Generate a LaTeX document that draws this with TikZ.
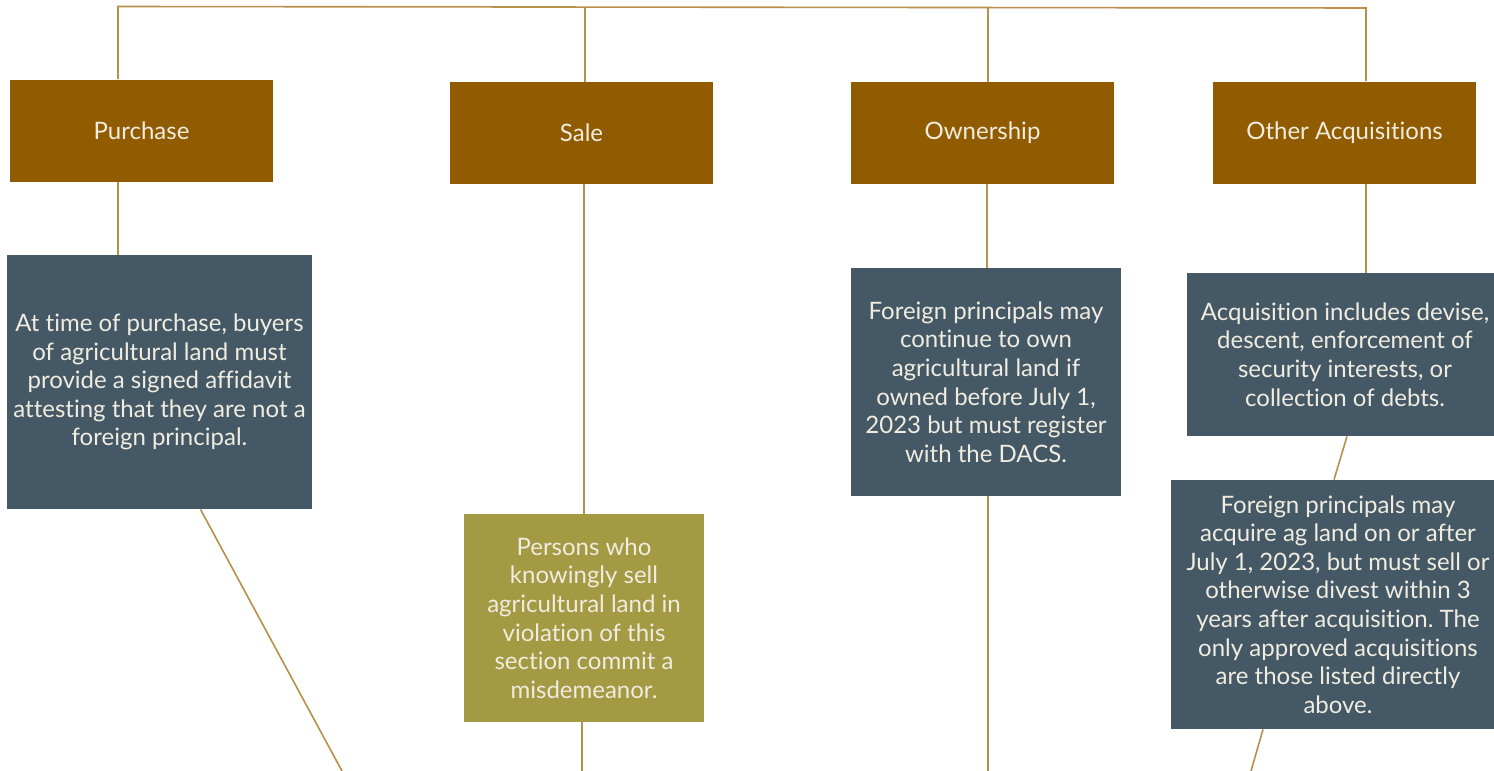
\documentclass[tikz,border=0pt]{standalone}
\usepackage{fontspec}
\setmainfont[Ligatures={NoCommon}]{Lato}
\usetikzlibrary{backgrounds,calc}
\definecolor{hdr}{RGB}{145,91,0}
\definecolor{slate}{RGB}{69,88,102}
\definecolor{olive}{RGB}{163,154,67}
\definecolor{wire}{RGB}{184,144,74}
\definecolor{cream}{RGB}{240,236,224}
\tikzset{
  box/.style={rectangle, inner sep=0pt, text=cream, align=center,
    font=\fontsize{12}{14.3}\selectfont\frenchspacing},
  head/.style={box, fill=hdr, minimum width=131.5pt, minimum height=51pt},
  slatebox/.style={box, fill=slate},
  olivebox/.style={box, fill=olive},
  wireline/.style={draw=wire, line width=0.8pt}
}
\begin{document}
\begin{tikzpicture}[x=0.5pt,y=-0.5pt]
\useasboundingbox (0,0) rectangle (1494,771);
\clip (0,0) rectangle (1494,771);
% headers
\node[head] (ph) at (141.5,130.5) {Purchase};
\node[head] (sh) at (581.5,133) {Sale};
\node[head] (oh) at (982.5,133) {Ownership};
\node[head] (ah) at (1344.5,132.5) {Other Acquisitions};
% bodies
\node[slatebox, minimum width=152.5pt, minimum height=127pt] (pb) at (159.5,382)
  {At time of purchase, buyers\\of agricultural land must\\provide a signed affidavit\\attesting that they are not a\\foreign principal.};
\node[olivebox, minimum width=120pt, minimum height=104pt] (sb) at (584,618)
  {Persons who\\knowingly sell\\agricultural land in\\violation of this\\section commit a\\misdemeanor.};
\node[slatebox, minimum width=135pt, minimum height=114pt] (ob) at (986,382)
  {Foreign principals may\\continue to own\\agricultural land if\\owned before July 1,\\2023 but must register\\with the DACS.};
\node[slatebox, minimum width=158pt, minimum height=81.5pt] (ab1) at (1345,354.5)
  {Acquisition includes devise,\\descent, enforcement of\\security interests, or\\collection of debts.};
\node[slatebox, minimum width=167pt, minimum height=124.5pt] (ab2) at (1338,604.5)
  {Foreign principals may\\acquire ag land on or after\\July 1, 2023, but must sell or\\otherwise divest within 3\\years after acquisition. The\\only approved acquisitions\\are those listed directly\\above.};
% bus coordinates
\coordinate (t1) at (118,6.5);
\coordinate (t2) at (585,7);
\coordinate (t3) at (988,7.5);
\coordinate (t4) at (1366,8);
\coordinate (pend) at (342,771);
\coordinate (send) at (582,771);
\coordinate (oend) at (988,771);
\coordinate (aend) at (1251,771);
\begin{pgfonlayer}{background}
\fill[white] (0,0) rectangle (1494,771);
\draw[wireline] (t1 |- ph.north) -- (t1) -- (t4) -- (t4 |- ah.north);
\draw[wireline] (t2) -- (t2 |- sh.north);
\draw[wireline] (t3) -- (t3 |- oh.north);
\draw[wireline] (ph.south -| t1) -- (pb.north -| t1);
\draw[wireline] (sh.south -| 584,0) -- (sb.north -| 584,0);
\draw[wireline] (oh.south -| 987,0) -- (ob.north -| 987,0);
\draw[wireline] (ah.south -| t4) -- (ab1.north -| t4);
\draw[wireline] ([xshift=20.5pt]pb.south) -- (pend);
\draw[wireline] (sb.south -| send) -- (send);
\draw[wireline] (ob.south -| oend) -- (oend);
\draw[wireline] ([xshift=1pt]ab1.south) -- ([xshift=-2pt]ab2.north);
\draw[wireline] ([xshift=-37.5pt]ab2.south) -- (aend);
\end{pgfonlayer}
\end{tikzpicture}
\end{document}
